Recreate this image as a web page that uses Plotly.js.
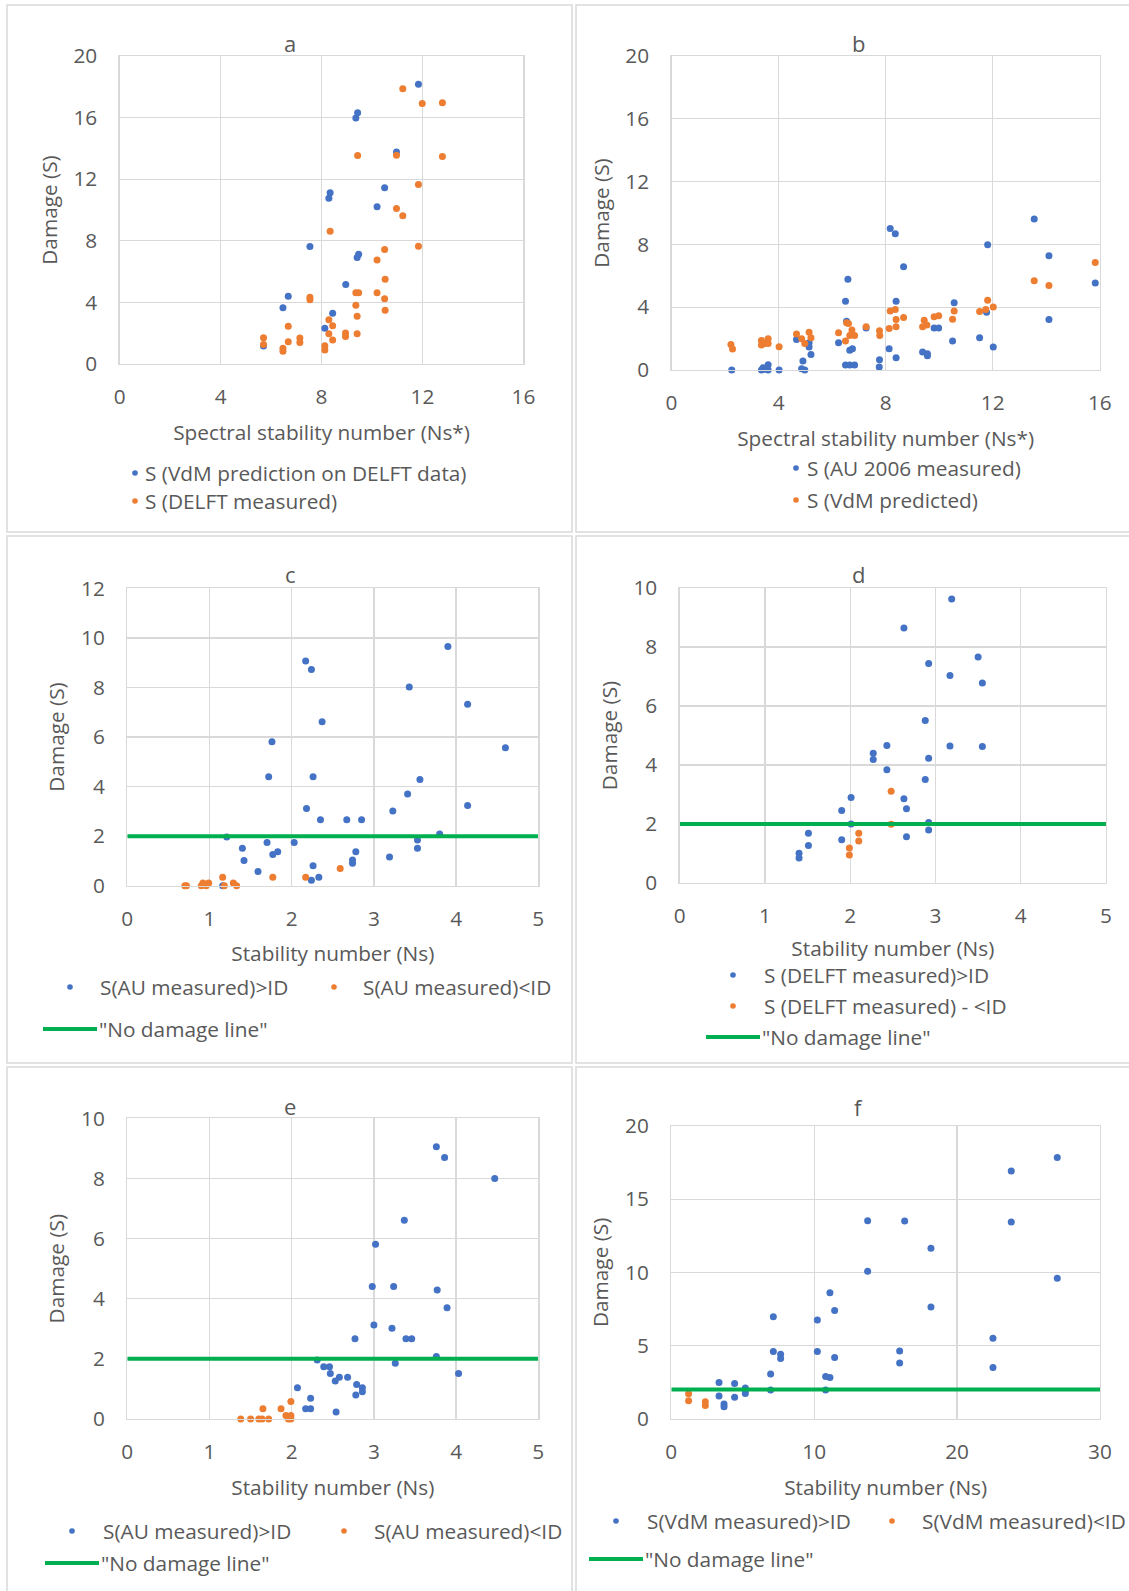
<!DOCTYPE html>
<html>
<head>
<meta charset="utf-8">
<script src="https://cdn.plot.ly/plotly-3.0.1.min.js"></script>
<style>
  html, body { margin: 0; padding: 0; background: #ffffff; }
  #chart { width: 1129px; height: 1591px; }
</style>
</head>
<body>
<div id="chart"></div>
<script>
// ---------- data: panel a (DELFT data, spectral stability number) ----------
const aVdmX = [11.84, 9.43, 9.36, 10.97, 10.50, 8.34, 8.29, 10.20, 7.54, 9.47, 9.41, 8.96, 6.68, 6.47, 8.44, 8.13, 5.70];
const aVdmY = [18.16, 16.32, 15.97, 13.76, 11.44, 11.12, 10.77, 10.21, 7.63, 7.13, 6.91, 5.16, 4.40, 3.66, 3.29, 2.32, 1.17];
const aDelftX = [11.22, 11.99, 12.79, 9.43, 10.97, 12.79, 11.84, 10.97, 11.22, 8.34, 11.84, 10.50, 10.20, 10.52, 7.54, 7.54,
                 9.36, 9.47, 10.20, 10.50, 9.36, 10.52, 9.41, 8.29, 8.44, 8.29, 9.41, 8.44, 8.95, 8.95, 6.68, 5.70, 5.70,
                 6.68, 7.14, 7.14, 6.47, 6.47, 8.13, 8.13];
const aDelftY = [17.88, 16.92, 16.97, 13.54, 13.56, 13.48, 11.66, 10.10, 9.62, 8.62, 7.65, 7.43, 6.76, 5.50, 4.33, 4.18,
                 4.62, 4.62, 4.62, 4.23, 3.81, 3.49, 3.10, 2.88, 2.49, 1.97, 1.97, 1.56, 2.02, 1.78, 2.45, 1.71, 1.26,
                 1.45, 1.69, 1.39, 1.02, 0.82, 1.19, 0.91];

// ---------- data: panel b (AU 2006 data, spectral stability number) ----------
const bAuX = [13.55, 8.17, 8.36, 11.81, 14.10, 8.67, 6.59, 15.83, 6.50, 8.39, 10.56, 11.77, 14.10, 6.54, 7.27, 9.81, 9.98,
              4.67, 5.14, 5.14, 5.21, 6.24, 6.66, 6.76, 10.50, 11.51, 12.02, 8.13, 8.39, 9.38, 9.56, 9.56, 7.77, 7.76,
              4.91, 4.86, 4.98, 6.50, 6.66, 6.84, 2.25, 3.36, 3.49, 3.61, 3.61, 4.02, 3.42];
const bAuY = [9.61, 9.02, 8.68, 7.98, 7.28, 6.58, 5.78, 5.54, 4.38, 4.38, 4.28, 3.68, 3.22, 3.11, 2.67, 2.67, 2.67,
              1.95, 1.74, 1.46, 0.99, 1.74, 1.25, 1.35, 1.84, 2.05, 1.46, 1.35, 0.78, 1.14, 1.04, 0.91, 0.66, 0.19,
              0.57, 0.08, 0.00, 0.32, 0.32, 0.32, 0.00, 0.00, 0.05, 0.00, 0.34, 0.00, 0.15];
const bVdmX = [15.83, 13.55, 14.10, 11.81, 12.02, 11.74, 11.51, 10.56, 10.50, 8.17, 8.36, 8.39, 8.67, 8.39, 8.13, 9.81,
               9.98, 9.44, 9.54, 9.38, 7.77, 7.78, 7.27, 6.54, 6.61, 6.74, 6.66, 6.84, 6.50, 6.24, 4.67, 5.14, 5.21,
               4.86, 4.98, 4.02, 3.36, 3.61, 3.36, 3.49, 3.61, 2.22, 2.28];
const bVdmY = [6.84, 5.69, 5.38, 4.44, 4.02, 3.85, 3.72, 3.75, 3.24, 3.75, 3.85, 3.22, 3.34, 2.75, 2.65, 3.39,
               3.45, 3.17, 2.86, 2.75, 2.50, 2.20, 2.75, 3.01, 2.96, 2.54, 2.20, 2.20, 1.84, 2.37, 2.29, 2.41, 2.05,
               1.99, 1.69, 1.48, 1.88, 1.99, 1.59, 1.69, 1.69, 1.63, 1.33];

// ---------- data: panel c (AU measured, stability number) ----------
const cAboveX = [3.90, 2.17, 2.24, 3.43, 4.14, 2.37, 1.76, 4.60, 1.72, 2.26, 3.56, 3.41, 2.18, 4.14, 3.23, 2.35, 2.67,
                 2.85, 1.21, 3.80, 3.53, 2.03, 1.70, 1.40, 3.53, 2.78, 1.83, 1.77, 3.19, 1.42, 2.74, 2.74, 1.59, 2.26,
                 2.33, 2.24, 1.16];
const cAboveY = [9.65, 9.07, 8.72, 8.02, 7.32, 6.62, 5.81, 5.57, 4.40, 4.40, 4.29, 3.70, 3.12, 3.24, 3.01, 2.66, 2.66,
                 2.66, 1.96, 2.09, 1.84, 1.74, 1.74, 1.51, 1.51, 1.37, 1.37, 1.26, 1.16, 1.02, 1.04, 0.91, 0.57, 0.81,
                 0.34, 0.22, 0.00];
const cBelowX = [2.59, 1.77, 2.17, 1.16, 1.29, 1.33, 0.99, 0.92, 0.90, 0.96, 0.70, 0.72, 1.18];
const cBelowY = [0.69, 0.34, 0.34, 0.34, 0.11, 0.00, 0.11, 0.11, 0.00, 0.00, 0.00, 0.00, 0.00];

// ---------- data: panel d (DELFT measured, stability number) ----------
const dAboveX = [3.19, 2.63, 3.50, 2.92, 3.17, 3.55, 2.88, 2.43, 3.17, 3.55, 2.27, 2.27, 2.92, 2.43, 2.88, 2.01, 2.63,
                 1.90, 2.66, 2.01, 2.92, 2.92, 1.51, 1.90, 2.66, 1.51, 1.40, 1.40];
const dAboveY = [9.63, 8.64, 7.66, 7.44, 7.03, 6.78, 5.51, 4.66, 4.64, 4.63, 4.40, 4.19, 4.23, 3.84, 3.51, 2.90, 2.86,
                 2.46, 2.52, 2.00, 2.05, 1.80, 1.69, 1.47, 1.57, 1.27, 1.01, 0.85];
const dBelowX = [2.48, 2.48, 2.10, 2.10, 1.99, 1.99];
const dBelowY = [3.11, 1.99, 1.69, 1.42, 1.19, 0.95];

// ---------- data: panel e (AU measured, stability number) ----------
const eAboveX = [3.76, 3.86, 4.47, 3.37, 3.02, 2.98, 3.24, 3.77, 3.89, 3.00, 3.22, 2.77, 3.39, 3.46, 3.76, 2.31, 3.26,
                 2.39, 2.46, 2.47, 4.03, 2.58, 2.68, 2.53, 2.79, 2.86, 2.86, 2.78, 2.07, 2.23, 2.17, 2.23, 2.54];
const eAboveY = [9.05, 8.70, 8.00, 6.61, 5.81, 4.41, 4.41, 4.29, 3.70, 3.13, 3.02, 2.67, 2.67, 2.67, 2.08, 1.96, 1.85,
                 1.74, 1.74, 1.51, 1.51, 1.39, 1.39, 1.26, 1.15, 1.04, 0.91, 0.80, 1.04, 0.69, 0.34, 0.34, 0.23];
const eBelowX = [1.99, 1.65, 1.87, 1.93, 1.99, 1.99, 1.38, 1.50, 1.60, 1.64, 1.72, 1.96];
const eBelowY = [0.58, 0.34, 0.34, 0.12, 0.12, 0.00, 0.00, 0.00, 0.00, 0.00, 0.00, 0.00];

// ---------- data: panel f (VdM measured, stability number) ----------
const fAboveX = [27.01, 23.79, 13.74, 16.33, 23.79, 18.17, 13.74, 27.01, 11.10, 11.43, 18.17, 7.14, 10.22, 22.51, 7.14,
                 10.22, 15.98, 7.65, 7.65, 11.43, 15.98, 22.51, 6.95, 10.80, 11.10, 6.95, 10.80, 3.34, 4.43, 5.18,
                 5.18, 5.18, 3.34, 4.43, 3.69, 3.69];
const fAboveY = [17.84, 16.92, 13.53, 13.51, 13.44, 11.64, 10.07, 9.59, 8.61, 7.40, 7.63, 6.97, 6.74, 5.49, 4.60,
                 4.60, 4.62, 4.40, 4.12, 4.19, 3.80, 3.49, 3.05, 2.89, 2.82, 1.96, 1.96, 2.48, 2.41, 2.10,
                 1.91, 1.73, 1.55, 1.46, 1.00, 0.82];
const fBelowX = [1.21, 1.21, 2.38, 2.38];
const fBelowY = [1.71, 1.23, 1.16, 0.91];

// ---------- "No damage line" (S = 2) ----------
const noDamageY = [2, 2];
const lineXStab5 = [0, 5];
const lineXStab30 = [0, 30];

// ---------- labels ----------
const panelLetters = ['a', 'b', 'c', 'd', 'e', 'f'];
const yTitle = 'Damage (S)';
const xTitleSpectral = 'Spectral stability number (Ns*)';
const xTitleStab = 'Stability number (Ns)';
const namesA = ['S (VdM prediction on DELFT data)', 'S (DELFT measured)'];
const namesB = ['S (AU 2006 measured)', 'S (VdM predicted)'];
const namesC = ['S(AU measured)>ID', 'S(AU measured)<ID'];
const namesD = ['S (DELFT measured)>ID', 'S (DELFT measured) - <ID'];
const namesE = ['S(AU measured)>ID', 'S(AU measured)<ID'];
const namesF = ['S(VdM measured)>ID', 'S(VdM measured)<ID'];
const lineName = '"No damage line"';

// ---------- styling ----------
const W = 1129, H = 1591;
const BLUE = '#4472C4', ORANGE = '#ED7D31', GREEN = '#00B050';
const GRID = '#d9d9d9', TEXT = '#595959';
const FONT = '"Open Sans", "Noto Sans", sans-serif';
const FS = 20.8;
const MS = 7;

const px = x => x / W;
const py = y => 1 - y / H;

// subplot rectangles in page pixels: [left, right, top, bottom]
const boxes = [
  [119.7, 523.4, 56, 364],
  [671.5, 1099.8, 56, 370],
  [127.3, 538.3, 588.3, 885.7],
  [679.7, 1106.0, 588, 883],
  [127.3, 538.3, 1118.3, 1419],
  [671.3, 1100.0, 1126, 1418.7]
];
const ranges = [
  {x: [0, 16], dx: 4, y: [0, 20], dy: 4, xt: xTitleSpectral, sx: 16},
  {x: [0, 16], dx: 4, y: [0, 20], dy: 4, xt: xTitleSpectral, sx: 16},
  {x: [0, 5], dx: 1, y: [0, 12], dy: 2, xt: xTitleStab, sx: 15},
  {x: [0, 5], dx: 1, y: [0, 10], dy: 2, xt: xTitleStab, sx: 13},
  {x: [0, 5], dx: 1, y: [0, 10], dy: 2, xt: xTitleStab, sx: 16},
  {x: [0, 30], dx: 10, y: [0, 20], dy: 5, xt: xTitleStab, sx: 16}
];

const layout = {
  width: W, height: H,
  margin: {l: 0, r: 0, t: 0, b: 0},
  paper_bgcolor: '#ffffff', plot_bgcolor: '#ffffff',
  showlegend: false,
  hovermode: false,
  font: {family: FONT, size: FS, color: TEXT},
  shapes: [], annotations: []
};

boxes.forEach((b, i) => {
  const n = i === 0 ? '' : String(i + 1);
  const r = ranges[i];
  layout['xaxis' + n] = {
    domain: [px(b[0]), px(b[1])], anchor: 'y' + n,
    range: r.x, dtick: r.dx, tick0: 0,
    showgrid: true, gridcolor: GRID, gridwidth: 1.3,
    showline: true, mirror: true, linecolor: GRID, linewidth: 1.3,
    zeroline: false, ticks: '', ticklabelstandoff: 14,
    tickfont: {family: FONT, size: FS, color: TEXT},
    title: {text: r.xt, font: {family: FONT, size: FS, color: TEXT}, standoff: r.sx}
  };
  layout['yaxis' + n] = {
    domain: [py(b[3]), py(b[2])], anchor: 'x' + n,
    range: r.y, dtick: r.dy, tick0: 0,
    showgrid: true, gridcolor: GRID, gridwidth: 1.3,
    showline: true, mirror: true, linecolor: GRID, linewidth: 1.3,
    zeroline: false, ticks: '', ticklabelstandoff: 17,
    tickfont: {family: FONT, size: FS, color: TEXT},
    title: {text: yTitle, font: {family: FONT, size: FS, color: TEXT}, standoff: 10}
  };
});

// panel frames
const frames = [
  [7, 572, 5, 532], [576, 1140, 5, 532],
  [7, 572, 536, 1063], [576, 1140, 536, 1063],
  [7, 572, 1067, 1600], [576, 1140, 1067, 1600]
];
frames.forEach(f => layout.shapes.push({
  type: 'rect', xref: 'paper', yref: 'paper',
  x0: px(f[0]), x1: px(f[1]), y0: py(f[3]), y1: py(f[2]),
  line: {color: GRID, width: 1.5}, fillcolor: 'rgba(0,0,0,0)', layer: 'below'
}));

// panel letters
const letterPos = [[290, 43], [858, 43], [290, 574], [858, 574], [290, 1106], [858, 1107]];
panelLetters.forEach((t, i) => layout.annotations.push({
  text: t, xref: 'paper', yref: 'paper', x: px(letterPos[i][0]), y: py(letterPos[i][1]),
  xanchor: 'center', yanchor: 'middle', showarrow: false,
  font: {family: FONT, size: 22, color: TEXT}
}));

// legend helpers (page pixel positions)
function legendDot(cx, cy, color) {
  const r = 2.8;
  layout.shapes.push({
    type: 'circle', xref: 'paper', yref: 'paper',
    x0: px(cx - r), x1: px(cx + r), y0: py(cy + r), y1: py(cy - r),
    fillcolor: color, line: {width: 0}
  });
}
function legendLine(x0, x1, cy) {
  layout.shapes.push({
    type: 'line', xref: 'paper', yref: 'paper',
    x0: px(x0), x1: px(x1), y0: py(cy), y1: py(cy),
    line: {color: GREEN, width: 4}
  });
}
function legendText(x, y, text) {
  layout.annotations.push({
    text: text, xref: 'paper', yref: 'paper', x: px(x), y: py(y),
    xanchor: 'left', yanchor: 'middle', showarrow: false,
    font: {family: FONT, size: FS, color: TEXT}
  });
}

// legend a
legendDot(135, 473, BLUE); legendText(143, 473, namesA[0]);
legendDot(135, 501, ORANGE); legendText(143, 501, namesA[1]);
// legend b
legendDot(796, 468, BLUE); legendText(805, 468, namesB[0]);
legendDot(796, 500, ORANGE); legendText(805, 500, namesB[1]);
// legend c
legendDot(70, 987, BLUE); legendText(98, 987, namesC[0]);
legendDot(334, 987, ORANGE); legendText(361, 987, namesC[1]);
legendLine(43, 97, 1029); legendText(97, 1029, lineName);
// legend d
legendDot(733, 975, BLUE); legendText(762, 975, namesD[0]);
legendDot(733, 1006, ORANGE); legendText(762, 1006, namesD[1]);
legendLine(706, 760, 1037); legendText(760, 1037, lineName);
// legend e
legendDot(72, 1531, BLUE); legendText(101, 1531, namesE[0]);
legendDot(344, 1531, ORANGE); legendText(372, 1531, namesE[1]);
legendLine(45, 99, 1563); legendText(99, 1563, lineName);
// legend f
legendDot(616, 1521, BLUE); legendText(645, 1521, namesF[0]);
legendDot(892, 1521, ORANGE); legendText(920, 1521, namesF[1]);
legendLine(589, 643, 1559); legendText(643, 1559, lineName);

// traces
function pts(x, y, color, xa, ya, name) {
  return {type: 'scatter', mode: 'markers', x: x, y: y, xaxis: xa, yaxis: ya, name: name,
          marker: {color: color, size: MS, line: {width: 0}}, cliponaxis: false};
}
function dmgLine(x, xa, ya) {
  return {type: 'scatter', mode: 'lines', x: x, y: noDamageY, xaxis: xa, yaxis: ya, name: lineName,
          line: {color: GREEN, width: 4}, cliponaxis: false};
}

const data = [
  pts(aVdmX, aVdmY, BLUE, 'x', 'y', namesA[0]),
  pts(aDelftX, aDelftY, ORANGE, 'x', 'y', namesA[1]),
  pts(bAuX, bAuY, BLUE, 'x2', 'y2', namesB[0]),
  pts(bVdmX, bVdmY, ORANGE, 'x2', 'y2', namesB[1]),
  pts(cAboveX, cAboveY, BLUE, 'x3', 'y3', namesC[0]),
  pts(cBelowX, cBelowY, ORANGE, 'x3', 'y3', namesC[1]),
  dmgLine(lineXStab5, 'x3', 'y3'),
  pts(dAboveX, dAboveY, BLUE, 'x4', 'y4', namesD[0]),
  pts(dBelowX, dBelowY, ORANGE, 'x4', 'y4', namesD[1]),
  dmgLine(lineXStab5, 'x4', 'y4'),
  pts(eAboveX, eAboveY, BLUE, 'x5', 'y5', namesE[0]),
  pts(eBelowX, eBelowY, ORANGE, 'x5', 'y5', namesE[1]),
  dmgLine(lineXStab5, 'x5', 'y5'),
  pts(fAboveX, fAboveY, BLUE, 'x6', 'y6', namesF[0]),
  pts(fBelowX, fBelowY, ORANGE, 'x6', 'y6', namesF[1]),
  dmgLine(lineXStab30, 'x6', 'y6')
];

Plotly.newPlot('chart', data, layout, {staticPlot: true, displayModeBar: false});
</script>
</body>
</html>
